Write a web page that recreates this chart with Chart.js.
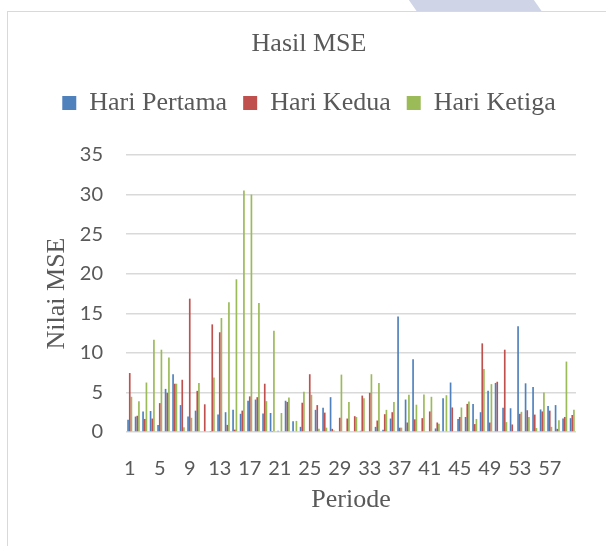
<!DOCTYPE html>
<html>
<head>
<meta charset="utf-8">
<script src="https://cdn.jsdelivr.net/npm/chart.js@4.4.1/dist/chart.umd.min.js"></script>
<style>
    html, body { margin: 0; padding: 0; background: #fff; }
    #wrap { position: relative; width: 606px; height: 546px; overflow: hidden; }
    #logo { position: absolute; left: 412px; top: -2px; width: 125px; height: 13px;
            background: #cfd4e6; transform: skewX(35deg); }
    #frame { position: absolute; left: 7px; top: 11px; width: 640px; height: 600px;
             border: 1px solid #d9d9d9; background: #fff; }
    #chart { position: absolute; left: 0; top: 0; }
</style>
</head>
<body>
<div id="wrap">
    <div id="logo"></div>
    <div id="frame"></div>
    <canvas id="chart" width="606" height="546"></canvas>
</div>
<script>
// Periode 1..60
const periods = Array.from({ length: 60 }, (_, i) => String(i + 1));

const hariPertama = [
    1.55, 1.95, 2.6, 2.65, 0.9, 5.45, 7.3, 3.4, 1.95, 2.7,
    0, 0.05, 2.2, 2.5, 2.8, 2.3, 3.95, 4.1, 2.35, 2.4,
    0.15, 3.95, 1.35, 0.65, 0, 2.8, 3.05, 4.4, 0, 0,
    0.1, 0.15, 0.1, 0.65, 0.3, 1.7, 14.6, 4.1, 9.2, 0,
    0, 0.45, 4.25, 6.25, 1.65, 1.9, 3.55, 2.5, 5.2, 6.2,
    3.05, 3.0, 13.35, 6.15, 5.7, 2.85, 3.3, 3.4, 1.7, 1.75
];
const hariKedua = [
    7.45, 2.05, 1.65, 1.7, 3.65, 4.95, 6.1, 6.6, 16.85, 5.2,
    3.5, 13.6, 12.6, 0.9, 0.3, 2.7, 4.5, 4.4, 6.1, 0.05,
    0, 3.8, 0.1, 3.7, 7.3, 3.4, 2.45, 0.4, 1.8, 1.7,
    2.0, 4.6, 4.95, 1.45, 2.25, 2.5, 0.55, 1.2, 1.6, 1.75,
    2.6, 1.2, 0, 3.1, 1.9, 3.55, 1.0, 11.2, 1.2, 6.35,
    10.4, 0.95, 2.3, 2.75, 2.2, 2.6, 2.7, 0.4, 1.9, 2.15
];
const hariKetiga = [
    4.45, 3.9, 6.25, 11.65, 10.4, 9.4, 6.1, 0.6, 1.8, 6.2,
    0, 6.9, 14.4, 16.4, 19.3, 30.5, 30.0, 16.3, 3.9, 12.8,
    2.4, 4.35, 1.4, 5.1, 4.7, 0.4, 0.55, 0.2, 7.25, 3.8,
    1.9, 4.25, 7.3, 6.2, 2.8, 3.8, 0.55, 4.7, 3.45, 4.75,
    4.45, 1.05, 4.65, 0, 3.1, 3.85, 1.65, 7.95, 6.05, 0,
    1.25, 0, 2.55, 1.9, 0.5, 5.0, 0.65, 1.5, 8.9, 2.8
];

const textColor = '#595959';
const serif = 'Liberation Serif';

// extra room under the legend, before the plot area
const legendGap = {
    id: 'legendGap',
    beforeInit(chart) {
        const fit = chart.legend.fit;
        chart.legend.fit = function() {
            fit.call(this);
            this.height += 29;
        };
    }
};

new Chart(document.getElementById('chart'), {
    type: 'bar',
    data: {
        labels: periods,
        datasets: [
            { label: 'Hari Pertama', data: hariPertama, backgroundColor: '#4f81bd' },
            { label: 'Hari Kedua', data: hariKedua, backgroundColor: '#c0504d' },
            { label: 'Hari Ketiga', data: hariKetiga, backgroundColor: '#9bbb59' }
        ]
    },
    plugins: [legendGap],
    options: {
        responsive: false,
        animation: false,
        categoryPercentage: 0.67,
        barPercentage: 1.0,
        layout: { padding: { top: 29, left: 42, right: 30, bottom: 26 } },
        plugins: {
            title: {
                display: true,
                text: 'Hasil MSE',
                color: textColor,
                font: { family: serif, size: 26, weight: 'normal' },
                padding: { top: 0, bottom: 13.8 }
            },
            legend: {
                position: 'top',
                labels: {
                    color: textColor,
                    font: { family: serif, size: 26 },
                    boxWidth: 14,
                    boxHeight: 14,
                    padding: 16
                }
            },
            tooltip: { enabled: false }
        },
        scales: {
            x: {
                afterFit: scale => { scale.height = 88; },
                grid: { display: false, drawTicks: false },
                border: { display: false },
                ticks: {
                    autoSkip: false,
                    maxRotation: 0,
                    minRotation: 0,
                    padding: 25,
                    color: textColor,
                    font: { family: 'Lato', size: 20 },
                    callback: function(value, index) {
                        return index % 4 === 0 ? this.getLabelForValue(value) : '';
                    }
                },
                title: {
                    display: true,
                    text: 'Periode',
                    color: textColor,
                    font: { family: serif, size: 26 },
                    padding: { top: 0, bottom: 4.4 }
                }
            },
            y: {
                min: 0,
                max: 35,
                afterFit: scale => { scale.width = 84; },
                grid: { color: '#d9d9d9', lineWidth: 1.5, drawTicks: false },
                border: { display: false },
                ticks: {
                    stepSize: 5,
                    padding: 23,
                    color: textColor,
                    font: { family: 'Lato', size: 20 }
                },
                title: {
                    display: true,
                    text: 'Nilai MSE',
                    color: textColor,
                    font: { family: serif, size: 26 },
                    padding: { top: 0, bottom: 0 }
                }
            }
        }
    }
});
</script>
</body>
</html>
